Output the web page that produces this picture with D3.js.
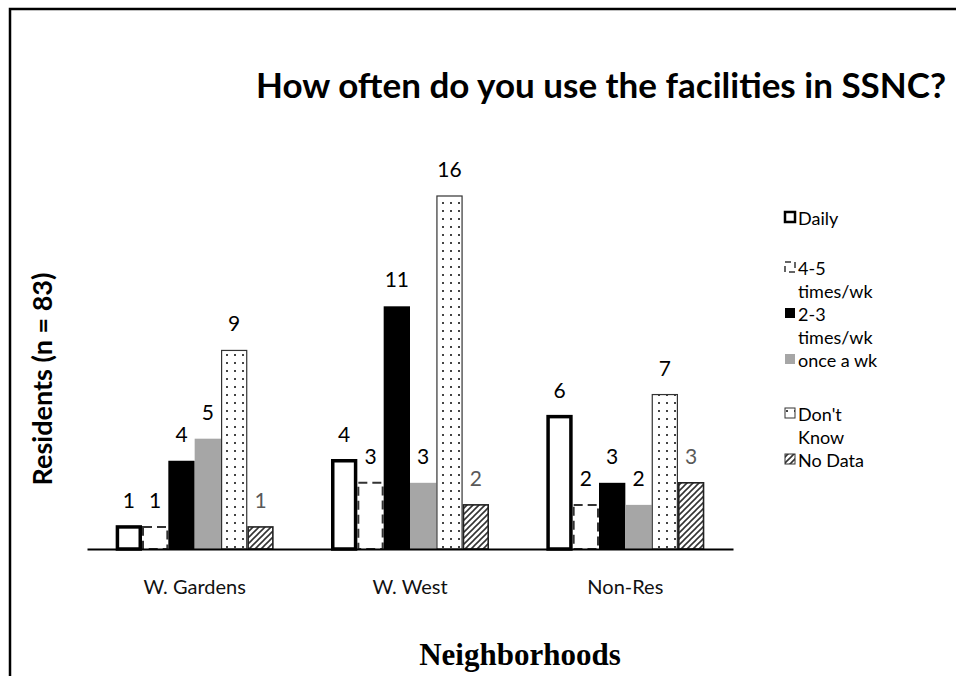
<!DOCTYPE html>
<html><head><meta charset="utf-8">
<script src="https://cdn.jsdelivr.net/npm/d3@7"></script>
<style>body{margin:0;background:#fff}svg{display:block}</style>
</head><body><svg id="c" width="956" height="676"></svg>
<script>
const categories = ["W. Gardens", "W. West", "Non-Res"];
const seriesNames = ["Daily", "4-5 times/wk", "2-3 times/wk", "once a wk", "Don't Know", "No Data"];
const daily = [1, 4, 6];
const fourFive = [1, 3, 2];
const twoThree = [4, 11, 3];
const onceWk = [5, 3, 2];
const dontKnow = [9, 16, 7];
const noData = [1, 2, 3];
const legendLines = [["Daily"], ["4-5", "times/wk"], ["2-3", "times/wk"], ["once a wk"], ["Don't", "Know"], ["No Data"]];
const title = "How often do you use the facilities in SSNC?";
const yTitle = "Residents (n = 83)";
const xTitle = "Neighborhoods";

const series = [daily, fourFive, twoThree, onceWk, dontKnow, noData];
const svg = d3.select("#c");
const F = "Lato, 'Open Sans', sans-serif";

const defs = svg.append("defs");
const dots = defs.append("pattern").attr("id","dots").attr("patternUnits","userSpaceOnUse").attr("width",8).attr("height",8);
dots.append("rect").attr("width",8).attr("height",8).attr("fill","#fff");
dots.append("rect").attr("x",2).attr("y",2).attr("width",2).attr("height",2).attr("fill","#444");
const hatch = defs.append("pattern").attr("id","hatch").attr("patternUnits","userSpaceOnUse").attr("width",6).attr("height",6);
hatch.append("rect").attr("width",6).attr("height",6).attr("fill","#fff");
hatch.append("path").attr("d","M-1,7 L7,-1 M-1,1 L1,-1 M5,7 L7,5").attr("stroke","#333").attr("stroke-width",1.6);

// frame
svg.append("path").attr("d","M10,676 V9 H956").attr("fill","none").attr("stroke","#000").attr("stroke-width",2.5);

const x0 = d3.scaleBand().domain(categories).range([87, 733]);
const groupW = 158;
const x1 = d3.scaleBand().domain(d3.range(series.length)).range([(x0.bandwidth()-groupW)/2, (x0.bandwidth()+groupW)/2]);
const y = d3.scaleLinear().domain([0, 16]).range([549, 196]);

const styles = [
  {fill:"#fff", stroke:"#000", sw:3.5, dash:null},
  {fill:"#fff", stroke:"#333", sw:2, dash:"9,5"},
  {fill:"#000", stroke:"none", sw:0, dash:null},
  {fill:"#a6a6a6", stroke:"none", sw:0, dash:null},
  {fill:"url(#dots)", stroke:"#333", sw:1.2, dash:null},
  {fill:"url(#hatch)", stroke:"#222", sw:1.6, dash:null}
];
const labelColors = ["#000","#000","#000","#000","#000","#595959"];

const g = svg.append("g");
series.forEach((vals, si) => {
  const st = styles[si];
  g.selectAll(null).data(vals).enter().append("rect")
    .attr("x", (d,i) => x0(categories[i]) + x1(si) + st.sw/2)
    .attr("y", d => y(d))
    .attr("width", x1.bandwidth() - st.sw)
    .attr("height", d => y(0) - y(d))
    .attr("fill", st.fill)
    .attr("stroke", st.stroke)
    .attr("stroke-width", st.sw)
    .attr("stroke-dasharray", st.dash);
});
// axis line
const xAxis = d3.axisBottom(x0).tickSize(0).tickPadding(31);
const ax = svg.append("g").attr("transform", `translate(0,${y(0)})`).call(xAxis);
ax.select(".domain").attr("stroke","#000").attr("stroke-width",2.2);
ax.selectAll("text").attr("font-family", F).attr("font-size", 20).attr("fill","#111");

// value labels
series.forEach((vals, si) => {
  g.selectAll(null).data(vals).enter().append("text")
    .attr("x", (d,i) => x0(categories[i]) + x1(si) + x1.bandwidth()/2)
    .attr("y", d => y(d) - 19)
    .attr("text-anchor","middle")
    .attr("font-family", F).attr("font-size", 21)
    .attr("fill", labelColors[si])
    .text(d => d);
});

// title
svg.append("text").attr("x", 946).attr("y", 98).attr("text-anchor","end")
  .attr("font-family", F).attr("font-weight","bold").attr("font-size", 35).attr("fill","#000").text(title);
// y title
svg.append("text").attr("transform","translate(52,379) rotate(-90)").attr("text-anchor","middle")
  .attr("font-family", F).attr("font-weight","bold").attr("font-size", 27).attr("fill","#000").text(yTitle);
// x title
svg.append("text").attr("x", 520).attr("y", 665).attr("text-anchor","middle")
  .attr("font-family", "'Liberation Serif', 'Times New Roman', serif").attr("font-weight","bold").attr("font-size", 31).attr("fill","#000").text(xTitle);

// legend
const legendY = [218, 268, 314, 360, 414, 460];
const lg = svg.append("g");
seriesNames.forEach((nm, i) => {
  const st = styles[i];
  const yy = legendY[i];
  const m = lg.append("rect").attr("x", 785).attr("y", yy - 6).attr("width", 10).attr("height", 10);
  if (i === 0) m.attr("fill","#fff").attr("stroke","#000").attr("stroke-width",2.5);
  else if (i === 1) m.attr("fill","#fff").attr("stroke","#333").attr("stroke-width",1.5).attr("stroke-dasharray","6,4");
  else if (i === 4) m.attr("fill","url(#dots)").attr("stroke","#333").attr("stroke-width",1);
  else if (i === 5) m.attr("fill","url(#hatch)").attr("stroke","#333").attr("stroke-width",1);
  else m.attr("fill", st.fill);
  legendLines[i].forEach((ln, k) => {
    lg.append("text").attr("x", 798).attr("y", yy + 7 + k*23)
      .attr("font-family", F).attr("font-size", 18).attr("fill","#000").text(ln);
  });
});
</script></body></html>
